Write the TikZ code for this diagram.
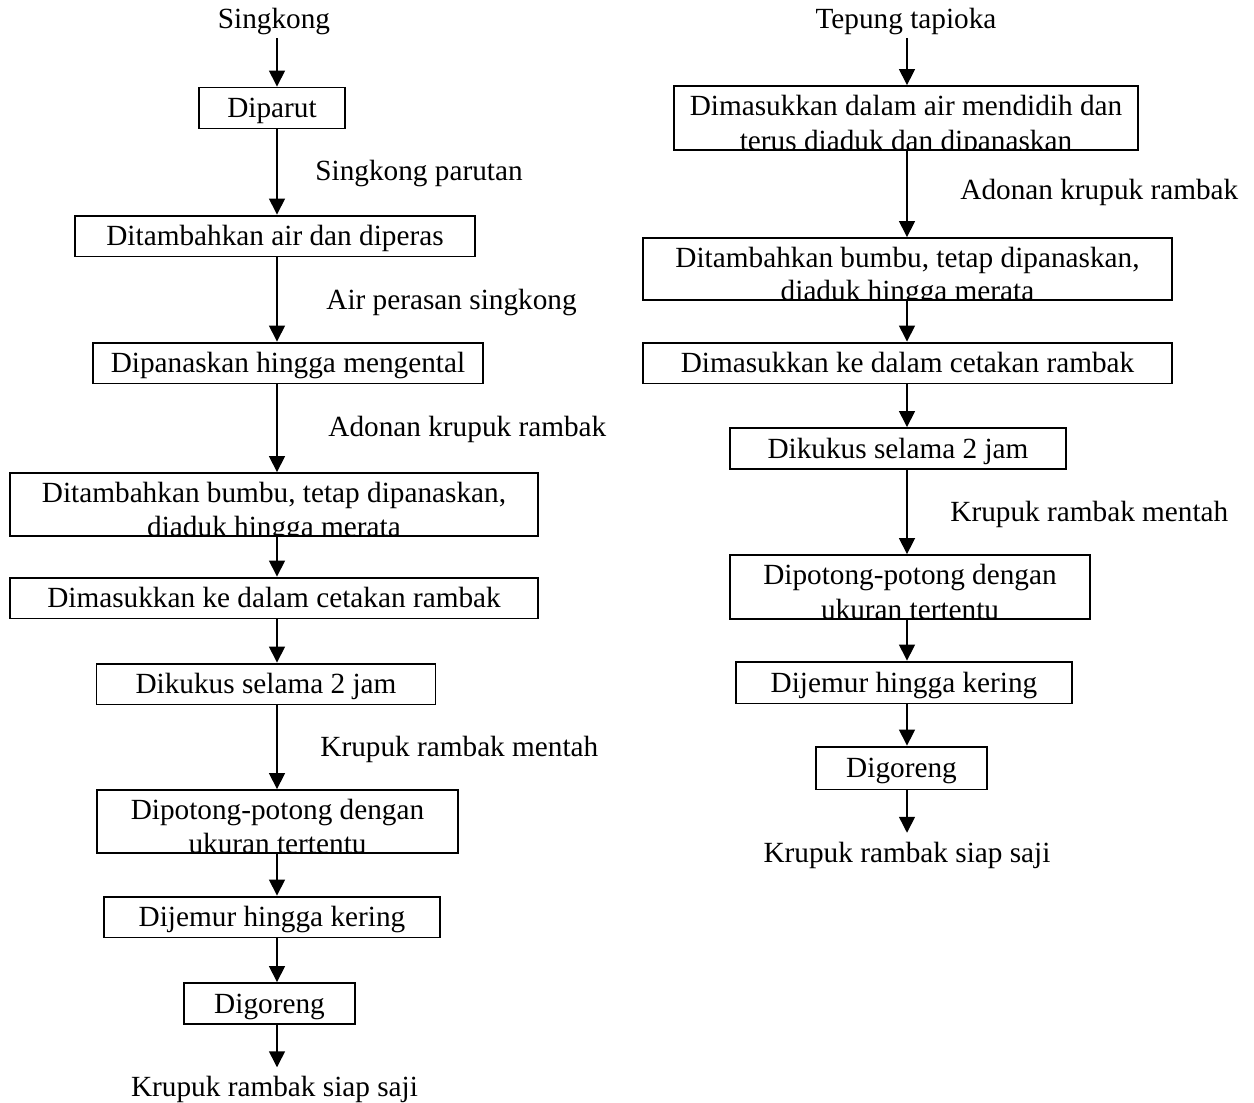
\documentclass[tikz,border=0pt]{standalone}
\usepackage{fontspec}
\setmainfont{Liberation Serif}
\usetikzlibrary{arrows.meta, positioning}
\tikzstyle{arrow} = [line width=0.6pt,-{Triangle[length=6.5pt,width=6.5pt]}]
\tikzstyle{flowtext} = [inner sep=2pt, text height=9.8pt, text depth=2pt, font=\fontsize{12pt}{13.8pt}\selectfont]
\tikzstyle{process} = [rectangle, minimum height=16.8pt, inner sep=0pt, text height=9.8pt, text depth=2pt, text centered, draw=black, line width=0.8pt, font=\fontsize{12pt}{13.8pt}\selectfont]
\tikzset{cutprocess/.style 2 args={process, minimum height=25.8pt, path picture={
    \node[font=\fontsize{12pt}{13.8pt}\selectfont, inner sep=0pt, anchor=base] at ([yshift=-11.9pt]path picture bounding box.north) {#1};
    \node[font=\fontsize{12pt}{13.8pt}\selectfont, inner sep=0pt, anchor=base] at ([yshift=-0.4pt]path picture bounding box.south) {#2};}}}

\begin{document}
\begin{tikzpicture}[x=0.41pt, y=-0.41pt]
        \useasboundingbox (0,0) rectangle (1254,1102);
        \coordinate (lx) at (277,0);
        \coordinate (rx) at (907,0);

        \node (singkong) [flowtext] at (274,18.5) {Singkong};
        \node (parut) [process, minimum width=59.5pt] at (272,108) {Diparut};
        \node (lperas) [process, minimum width=164pt] at (275,236) {Ditambahkan air dan diperas};
        \node (lpanas) [process, minimum width=160pt] at (288,363) {Dipanaskan hingga mengental};
        \node (lbumbu) [cutprocess={Ditambahkan bumbu, tetap dipanaskan,}{diaduk hingga merata}, minimum width=216.5pt] at (274,504.5) {};
        \node (lcetak) [process, minimum width=216.5pt] at (274,598) {Dimasukkan ke dalam cetakan rambak};
        \node (lkukus) [process, minimum width=139pt] at (266,684) {Dikukus selama 2 jam};
        \node (lpotong) [cutprocess={Dipotong-potong dengan}{ukuran tertentu}, minimum width=148pt] at (277.5,821.5) {};
        \node (ljemur) [process, minimum width=137.8pt] at (272,917) {Dijemur hingga kering};
        \node (lgoreng) [process, minimum width=70pt] at (269.5,1003.5) {Digoreng};
        \node (lsaji) [flowtext] at (274.5,1087) {Krupuk rambak siap saji};

        \node (lparutan) [flowtext, anchor=west] at (310,171) {Singkong parutan};
        \node (lperasan) [flowtext, anchor=west] at (321,300) {Air perasan singkong};
        \node (ladonan) [flowtext, anchor=west] at (323,427) {Adonan krupuk rambak};
        \node (lmentah) [flowtext, anchor=west] at (315,747) {Krupuk rambak mentah};

        \node (tapioka) [flowtext] at (906,18.5) {Tepung tapioka};
        \node (rdidih) [cutprocess={Dimasukkan dalam air mendidih dan}{terus diaduk dan dipanaskan}, minimum width=190pt, minimum height=26.2pt] at (906,118) {};
        \node (rbumbu) [cutprocess={Ditambahkan bumbu, tetap dipanaskan,}{diaduk hingga merata}, minimum width=217pt, minimum height=25.4pt] at (907.5,269) {};
        \node (rcetak) [process, minimum width=217pt] at (907.5,363) {Dimasukkan ke dalam cetakan rambak};
        \node (rkukus) [process, minimum width=137.8pt] at (898,448.5) {Dikukus selama 2 jam};
        \node (rpotong) [cutprocess={Dipotong-potong dengan}{ukuran tertentu}, minimum width=147.6pt, minimum height=26.2pt] at (910,587) {};
        \node (rjemur) [process, minimum width=137.8pt, minimum height=17.2pt] at (904,682.5) {Dijemur hingga kering};
        \node (rgoreng) [process, minimum width=70pt, minimum height=17.6pt] at (901.5,768) {Digoreng};
        \node (rsaji) [flowtext] at (907,852.5) {Krupuk rambak siap saji};

        \node (radonan) [flowtext, anchor=west] at (955,190) {Adonan krupuk rambak};
        \node (rmentah) [flowtext, anchor=west] at (945,512) {Krupuk rambak mentah};

        \draw [arrow] (singkong.south -| lx) -- (parut.north -| lx);
        \draw [arrow] (parut.south -| lx) -- (lperas.north -| lx);
        \draw [arrow] (lperas.south -| lx) -- (lpanas.north -| lx);
        \draw [arrow] (lpanas.south -| lx) -- (lbumbu.north -| lx);
        \draw [arrow] (lbumbu.south -| lx) -- (lcetak.north -| lx);
        \draw [arrow] (lcetak.south -| lx) -- (lkukus.north -| lx);
        \draw [arrow] (lkukus.south -| lx) -- (lpotong.north -| lx);
        \draw [arrow] (lpotong.south -| lx) -- (ljemur.north -| lx);
        \draw [arrow] (ljemur.south -| lx) -- (lgoreng.north -| lx);
        \draw [arrow] (lgoreng.south -| lx) -- (lsaji.north -| lx);

        \draw [arrow] (tapioka.south -| rx) -- (rdidih.north -| rx);
        \draw [arrow] (rdidih.south -| rx) -- (rbumbu.north -| rx);
        \draw [arrow] (rbumbu.south -| rx) -- (rcetak.north -| rx);
        \draw [arrow] (rcetak.south -| rx) -- (rkukus.north -| rx);
        \draw [arrow] (rkukus.south -| rx) -- (rpotong.north -| rx);
        \draw [arrow] (rpotong.south -| rx) -- (rjemur.north -| rx);
        \draw [arrow] (rjemur.south -| rx) -- (rgoreng.north -| rx);
        \draw [arrow] (rgoreng.south -| rx) -- (rsaji.north -| rx);
\end{tikzpicture}
\end{document}
